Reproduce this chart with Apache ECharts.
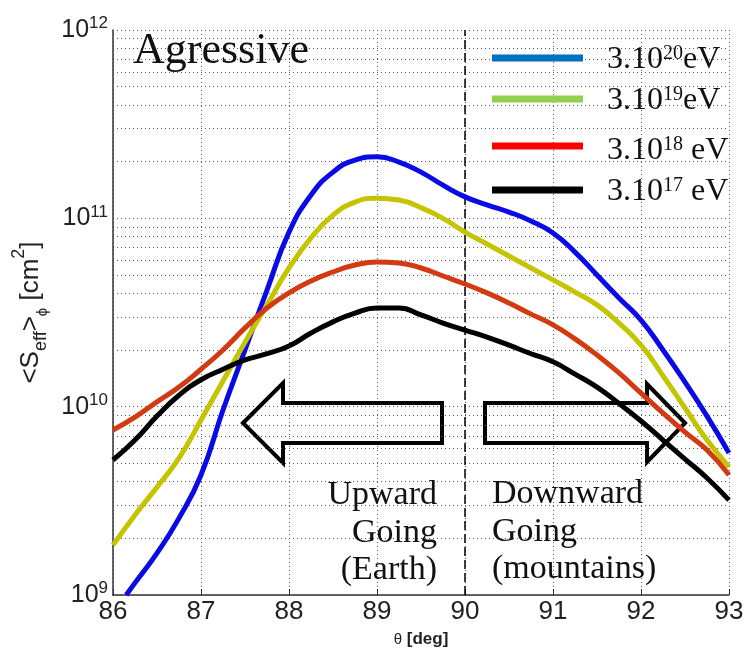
<!DOCTYPE html>
<html>
<head>
<meta charset="utf-8">
<script src="https://cdn.jsdelivr.net/npm/echarts@6/dist/echarts.min.js"></script>
<style>html,body{margin:0;padding:0;background:#fff}#c{width:747px;height:656px}</style>
</head>
<body>
<div id="c"></div>
<script>
// zenith angle theta [deg]
const thetaBlue = [86.15,86.25,86.5,86.75,87,87.25,87.5,87.75,88,88.25,88.5,88.75,89,89.25,89.5,89.75,90,90.25,90.5,90.75,91,91.25,91.5,91.75,92,92.25,92.5,92.75,93];
const theta = [86,86.25,86.5,86.75,87,87.25,87.5,87.75,88,88.25,88.5,88.75,89,89.25,89.5,89.75,90,90.25,90.5,90.75,91,91.25,91.5,91.75,92,92.25,92.5,92.75,93];
// <S_eff> [cm^2]
const s3e20 = [1.00e9,1.16e9,1.67e9,2.56e9,4.34e9,9.6e9,2.0e10,4.16e10,8.45e10,1.33e11,1.76e11,2.04e11,2.12e11,1.99e11,1.76e11,1.50e11,1.30e11,1.18e11,1.08e11,9.68e10,8.36e10,6.62e10,5.00e10,3.78e10,2.88e10,2.00e10,1.35e10,8.91e9,5.68e9];
const s3e19 = [1.84e9,2.66e9,3.74e9,5.33e9,8.49e9,1.37e10,2.20e10,3.47e10,5.45e10,7.87e10,1.04e11,1.22e11,1.28e11,1.25e11,1.14e11,1.00e11,8.45e10,7.31e10,6.31e10,5.45e10,4.71e10,4.06e10,3.47e10,2.78e10,2.12e10,1.46e10,9.84e9,6.65e9,4.79e9];
const s3e18 = [7.52e9,8.81e9,1.06e10,1.27e10,1.58e10,2.00e10,2.62e10,3.34e10,4.02e10,4.65e10,5.19e10,5.65e10,5.86e10,5.79e10,5.45e10,4.94e10,4.48e10,4.02e10,3.55e10,3.10e10,2.72e10,2.29e10,1.88e10,1.51e10,1.18e10,9.25e9,7.33e9,5.89e9,4.34e9];
const s3e17 = [5.21e9,6.65e9,8.91e9,1.15e10,1.39e10,1.58e10,1.77e10,1.91e10,2.10e10,2.46e10,2.82e10,3.14e10,3.34e10,3.34e10,3.07e10,2.78e10,2.55e10,2.34e10,2.12e10,1.91e10,1.73e10,1.49e10,1.27e10,1.04e10,8.39e9,6.65e9,5.27e9,4.18e9,3.19e9];
const minorY = [2e9,3e9,4e9,5e9,6e9,7e9,8e9,9e9,2e10,3e10,4e10,5e10,6e10,7e10,8e10,9e10,2e11,3e11,4e11,5e11,6e11,7e11,8e11,9e11];
const legendSup = ['20','19','18','17'];
const legendSep = ['', '', ' ', ' '];
const curveColors = ['#0a0ae6','#c4c400','#d23a12','#000000'];
const legendColors = ['#0070c0','#92d050','#ff0000','#000000'];

const chart = echarts.init(document.getElementById('c'), null, {renderer:'canvas'});
const zip = (xs, ys) => xs.map((x,i)=>[x, ys[i]]);
const dotted = {type:[1,3], color:'#555', width:1};
const serif = 'Liberation Serif';

function curve(name, xs, ys, color){
  return {name, type:'line', data: zip(xs, ys), showSymbol:false, smooth:0.5, z:5,
    lineStyle:{color, width:5}, itemStyle:{color}};
}

const legendY = [58, 99, 146, 190];
const legendTextY = [60, 101, 151, 192];
const graphics = [];
legendSup.forEach((s,i)=>{
  graphics.push({type:'line', shape:{x1:492, y1:legendY[i], x2:583, y2:legendY[i]}, style:{stroke:legendColors[i], lineWidth:7}, z:10});
  graphics.push({type:'text', x:607, y:legendTextY[i], style:{text:'3.10{s|'+s+'}'+legendSep[i]+'eV', font:'32px '+serif, fill:'#111', verticalAlign:'middle', align:'left',
    rich:{s:{fontSize:20, fontFamily:serif, verticalAlign:'top', fill:'#111'}}}, z:10});
});
graphics.push({type:'text', x:133, y:73, style:{text:'Agressive', font:'44px '+serif, fill:'#111', verticalAlign:'bottom', align:'left'}, z:10});
[['Upward',478],['Going',516],['(Earth)',553]].forEach(([t,y])=>{
  graphics.push({type:'text', x:437, y:y, style:{text:t, font:'34px '+serif, fill:'#111', align:'right', verticalAlign:'top'}, z:10});
});
[['Downward',477],['Going',515],['(mountains)',552]].forEach(([t,y])=>{
  graphics.push({type:'text', x:492, y:y, style:{text:t, font:'34px '+serif, fill:'#111', align:'left', verticalAlign:'top'}, z:10});
});
graphics.push({type:'polygon', shape:{points:[[243,423],[283,383],[283,403],[442,403],[442,443],[283,443],[283,463]]}, style:{fill:'none', stroke:'#000', lineWidth:4}, z:1});
graphics.push({type:'polygon', shape:{points:[[485,403],[647,403],[647,384],[685,423],[647,462],[647,443],[485,443]]}, style:{fill:'none', stroke:'#000', lineWidth:4}, z:1});

chart.setOption({
  animation:false,
  backgroundColor:'#fff',
  grid:{left:113, right:18, top:30, bottom:61, containLabel:false},
  xAxis:{type:'value', min:86, max:93, interval:1,
    name:'{t|θ} [deg]', nameLocation:'middle', nameGap:36,
    nameTextStyle:{fontFamily:'Liberation Sans', fontSize:17, fontWeight:'bold', color:'#222', rich:{t:{fontSize:15, fontWeight:'normal', fontFamily:'Liberation Sans', color:'#222'}}},
    axisLine:{lineStyle:{color:'#333', width:1.5}},
    axisTick:{inside:true, length:6, lineStyle:{color:'#333'}},
    axisLabel:{fontFamily:'Liberation Sans', fontSize:26, color:'#222', margin:4},
    splitLine:{show:true, lineStyle:dotted}},
  yAxis:{type:'log', logBase:10, min:1e9, max:1e12, splitNumber:3,
    name:'<S{sub|eff}>{sub2|ϕ} [cm{sup|2}]', nameLocation:'middle', nameRotate:90, nameGap:62,
    nameTextStyle:{fontFamily:'Liberation Sans', fontSize:26, color:'#222',
      rich:{sub:{fontSize:18, fontFamily:'Liberation Sans', verticalAlign:'bottom', color:'#222', lineHeight:40},
            sub2:{fontSize:15, fontFamily:'Liberation Sans', verticalAlign:'bottom', color:'#222', lineHeight:40},
            sup:{fontSize:18, fontFamily:'Liberation Sans', verticalAlign:'top', color:'#222', lineHeight:40}}},
    axisLine:{show:true, lineStyle:{color:'#333', width:1.5}},
    axisTick:{show:false},
    axisLabel:{margin:5, color:'#222',
      formatter:v=>'{b|10}{s|'+Math.round(Math.log10(v))+'}',
      rich:{b:{fontSize:25, fontFamily:'Liberation Sans', color:'#222', lineHeight:30},
            s:{fontSize:17, fontFamily:'Liberation Sans', color:'#222', verticalAlign:'top', lineHeight:17}}},
    splitLine:{show:true, lineStyle:dotted}},
  graphic:graphics,
  series:[
    {name:'grid', type:'line', data:[], z:1, silent:true,
      markLine:{silent:true, symbol:['none','none'], label:{show:false}, lineStyle:dotted, animation:false,
        data: minorY.map(v=>({yAxis:v}))}},
    {name:'div', type:'line', data:[], z:2, silent:true,
      markLine:{silent:true, symbol:['none','none'], label:{show:false}, lineStyle:{type:[9,4], color:'#000', width:1.5}, animation:false,
        data:[{xAxis:90}]}},
    curve('3.10^20 eV', thetaBlue, s3e20, curveColors[0]),
    curve('3.10^19 eV', theta, s3e19, curveColors[1]),
    curve('3.10^18 eV', theta, s3e18, curveColors[2]),
    curve('3.10^17 eV', theta, s3e17, curveColors[3])
  ]
});
</script>
</body>
</html>
